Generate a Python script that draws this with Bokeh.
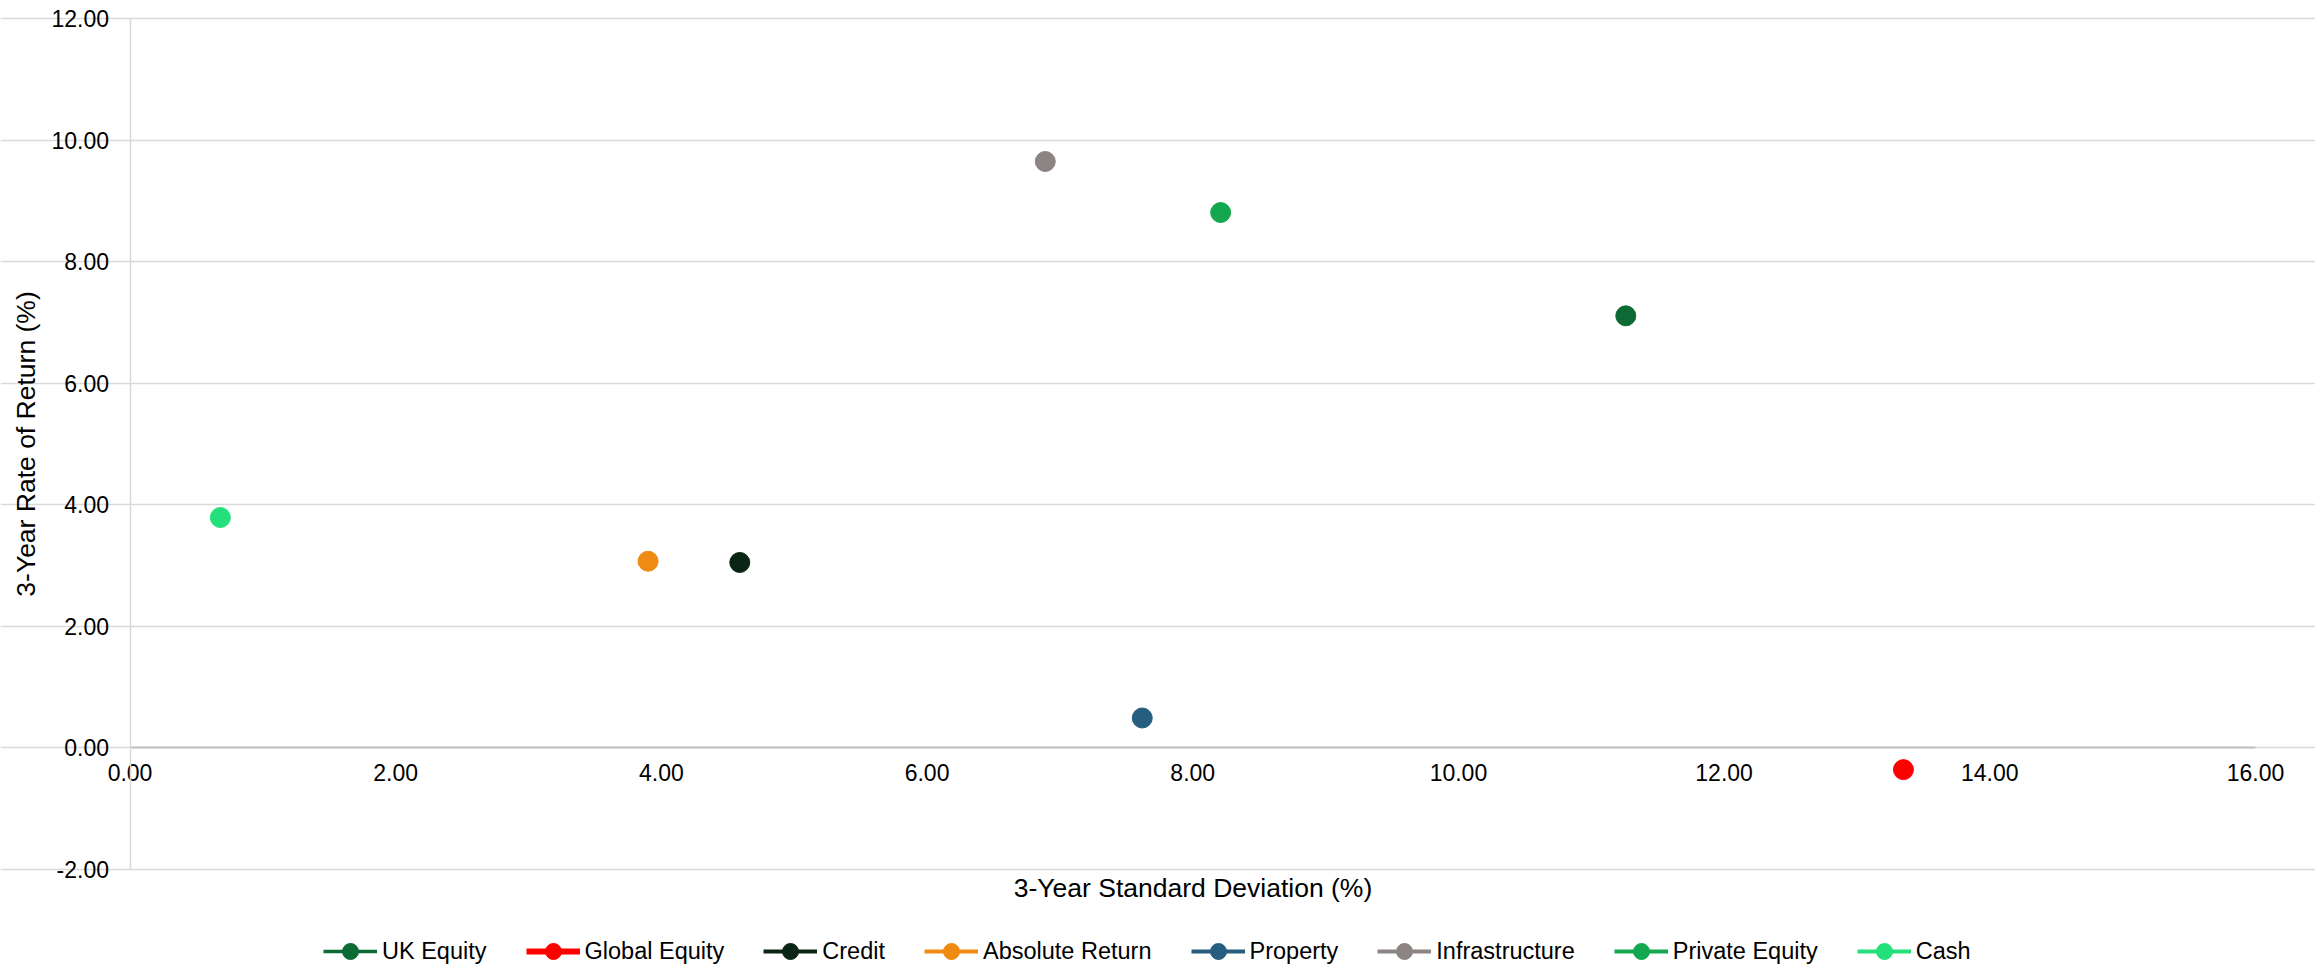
from bokeh.plotting import figure
from bokeh.models import (Range1d, NumeralTickFormatter, FixedTicker, Legend,
                          LegendItem, ColumnDataSource)
from bokeh.embed import file_html
from bokeh.resources import INLINE

# ---- data ----
series = ["UK Equity", "Global Equity", "Credit", "Absolute Return",
          "Property", "Infrastructure", "Private Equity", "Cash"]
std_dev = [11.26, 13.35, 4.59, 3.90, 7.62, 6.89, 8.21, 0.68]
returns = [7.11, -0.36, 3.05, 3.07, 0.49, 9.65, 8.81, 3.79]
colors = ["#0d6a34", "#ff0000", "#0b2515", "#ef8a12",
          "#255e7e", "#8c8483", "#13a84f", "#24e07a"]
legend_line_widths = [3.5, 6, 4, 4, 4, 4, 4, 4]
x_ticks = [0, 2, 4, 6, 8, 10, 12, 14, 16]
y_ticks = [-2, 0, 2, 4, 6, 8, 10, 12]
x_bounds = (0, 16)
y_bounds = (-2, 12)

FONT = "Liberation Sans"

# the frame fills the whole figure; the axes sit at x=0 / y=0 inside it
p = figure(width=2315, height=971,
           x_range=Range1d(-0.975, 16.452), y_range=Range1d(-3.683, 12.30),
           output_backend="svg", toolbar_location=None, title=None,
           min_border_left=0, min_border_right=0, min_border_top=0,
           min_border_bottom=0)
p.outline_line_color = None
p.background_fill_color = "white"
p.border_fill_color = "white"

p.xaxis.ticker = FixedTicker(ticks=x_ticks)
p.yaxis.ticker = FixedTicker(ticks=y_ticks)
p.xaxis.formatter = NumeralTickFormatter(format="0.00")
p.yaxis.formatter = NumeralTickFormatter(format="0.00")
p.xaxis.fixed_location = 0
p.yaxis.fixed_location = 0
p.xaxis.bounds = x_bounds
p.yaxis.bounds = y_bounds
for ax in (p.xaxis, p.yaxis):
    ax.major_tick_line_color = None
    ax.minor_tick_line_color = None
    ax.major_label_text_font = FONT
    ax.major_label_text_font_size = "23px"
    ax.major_label_text_color = "#000000"
    ax.axis_label_text_font = FONT
    ax.axis_label_text_font_size = "26.5px"
    ax.axis_label_text_font_style = "normal"
    ax.axis_label_text_color = "#000000"

p.xaxis.axis_line_color = "#bfbfbf"
p.xaxis.axis_line_width = 2
p.xaxis.major_label_standoff = 10
p.xaxis.axis_label = "3-Year Standard Deviation (%)"
p.xaxis.axis_label_standoff = 89

p.yaxis.axis_line_color = "#d9d9d9"
p.yaxis.axis_line_width = 1.5
p.yaxis.major_label_standoff = 15
p.yaxis.axis_label = "3-Year Rate of Return (%)"
p.yaxis.axis_label_standoff = 8

p.xgrid.grid_line_color = None
p.ygrid.grid_line_color = "#d9d9d9"
p.ygrid.grid_line_width = 1.5
p.ygrid.bounds = x_bounds

items = []
for name, xv, yv, c, lw in zip(series, std_dev, returns, colors, legend_line_widths):
    src = ColumnDataSource(data=dict(x=[xv], y=[yv]))
    lr = p.line("x", "y", source=src, line_color=c, line_width=lw)
    sr = p.scatter("x", "y", source=src, size=20, fill_color=c, line_color=c)
    items.append(LegendItem(label=name, renderers=[lr, sr]))

legend = Legend(items=items, orientation="horizontal", location=(323, 0),
                glyph_width=54, glyph_height=40, label_standoff=5, spacing=39,
                padding=0, margin=0, border_line_color=None,
                background_fill_alpha=0,
                label_text_font=FONT, label_text_font_size="23.5px",
                label_text_color="#000000")
p.add_layout(legend)

open("out.html", "w").write(file_html(p, INLINE))
